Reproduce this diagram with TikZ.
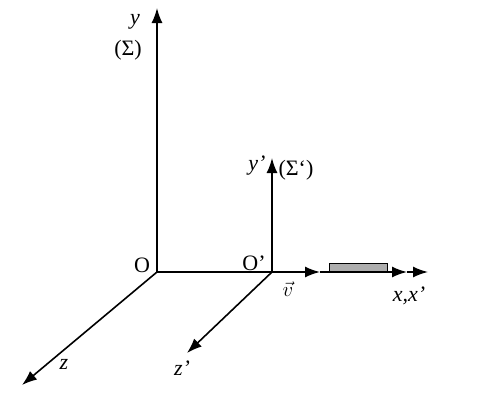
\documentclass[tikz,border=0pt]{standalone}
\usepackage{fontspec}
\setmainfont{Liberation Serif}
\usetikzlibrary{arrows.meta}
\tikzset{
  axis/.style={line width=1.6pt, -{Latex[length=15pt,width=11pt]}},
  lbl/.style={inner sep=0pt, font=\fontsize{22}{24}\selectfont},
  ilbl/.style={inner sep=0pt, font=\fontsize{22}{24}\selectfont\itshape},
  rod/.style={draw=black, line width=0.7pt, fill=black!32}
}
\begin{document}
\begin{tikzpicture}[x=1pt,y=-1pt]
\useasboundingbox (0,0) rectangle (487,410);
% points
\coordinate (O) at (157,272);
\coordinate (Ytip) at (157,8);
\coordinate (Ztip) at (22,385);
\coordinate (Op) at (272,272);
\coordinate (Yptip) at (272,158);
\coordinate (Zptip) at (187,353);
\coordinate (V) at (320,272);
\coordinate (X1) at (407,272);
\coordinate (X2) at (428,272);
% axes
\draw[axis] (O) -- (Ytip);
\draw[axis] (O) -- (Ztip);
\draw[line width=1.6pt] (O) -- (Op);
\draw[axis] (Op) -- (V);
\draw[axis] (V) -- (X1);
\draw[axis] (X1) -- (X2);
\draw[axis] (Op) -- (Yptip);
\draw[axis] (Op) -- (Zptip);
% moving rod
\node[rod, minimum width=58pt, minimum height=8pt, inner sep=0pt, anchor=south west] (rod) at (329,272) {};
% labels
\node[ilbl] (ly) at (135,22) {y};
\node[lbl] (lS) at (128,50) {(Σ)};
\node[lbl] (lO) at (142,265) {O};
\node[lbl] (lOp) at (254,263) {O’};
\node[ilbl] (lyp) at (257,166) {y’};
\node[lbl] (lSp) at (296,170) {(Σ‘)};
\node[lbl] (lv) at (288,289) {\fontsize{20}{22}\selectfont$\vec{v}$};
\node[ilbl] (lx) at (409,296) {x,x’};
\node[ilbl] (lz) at (64,364) {z};
\node[ilbl] (lzp) at (182,368) {z’};
\end{tikzpicture}
\end{document}
